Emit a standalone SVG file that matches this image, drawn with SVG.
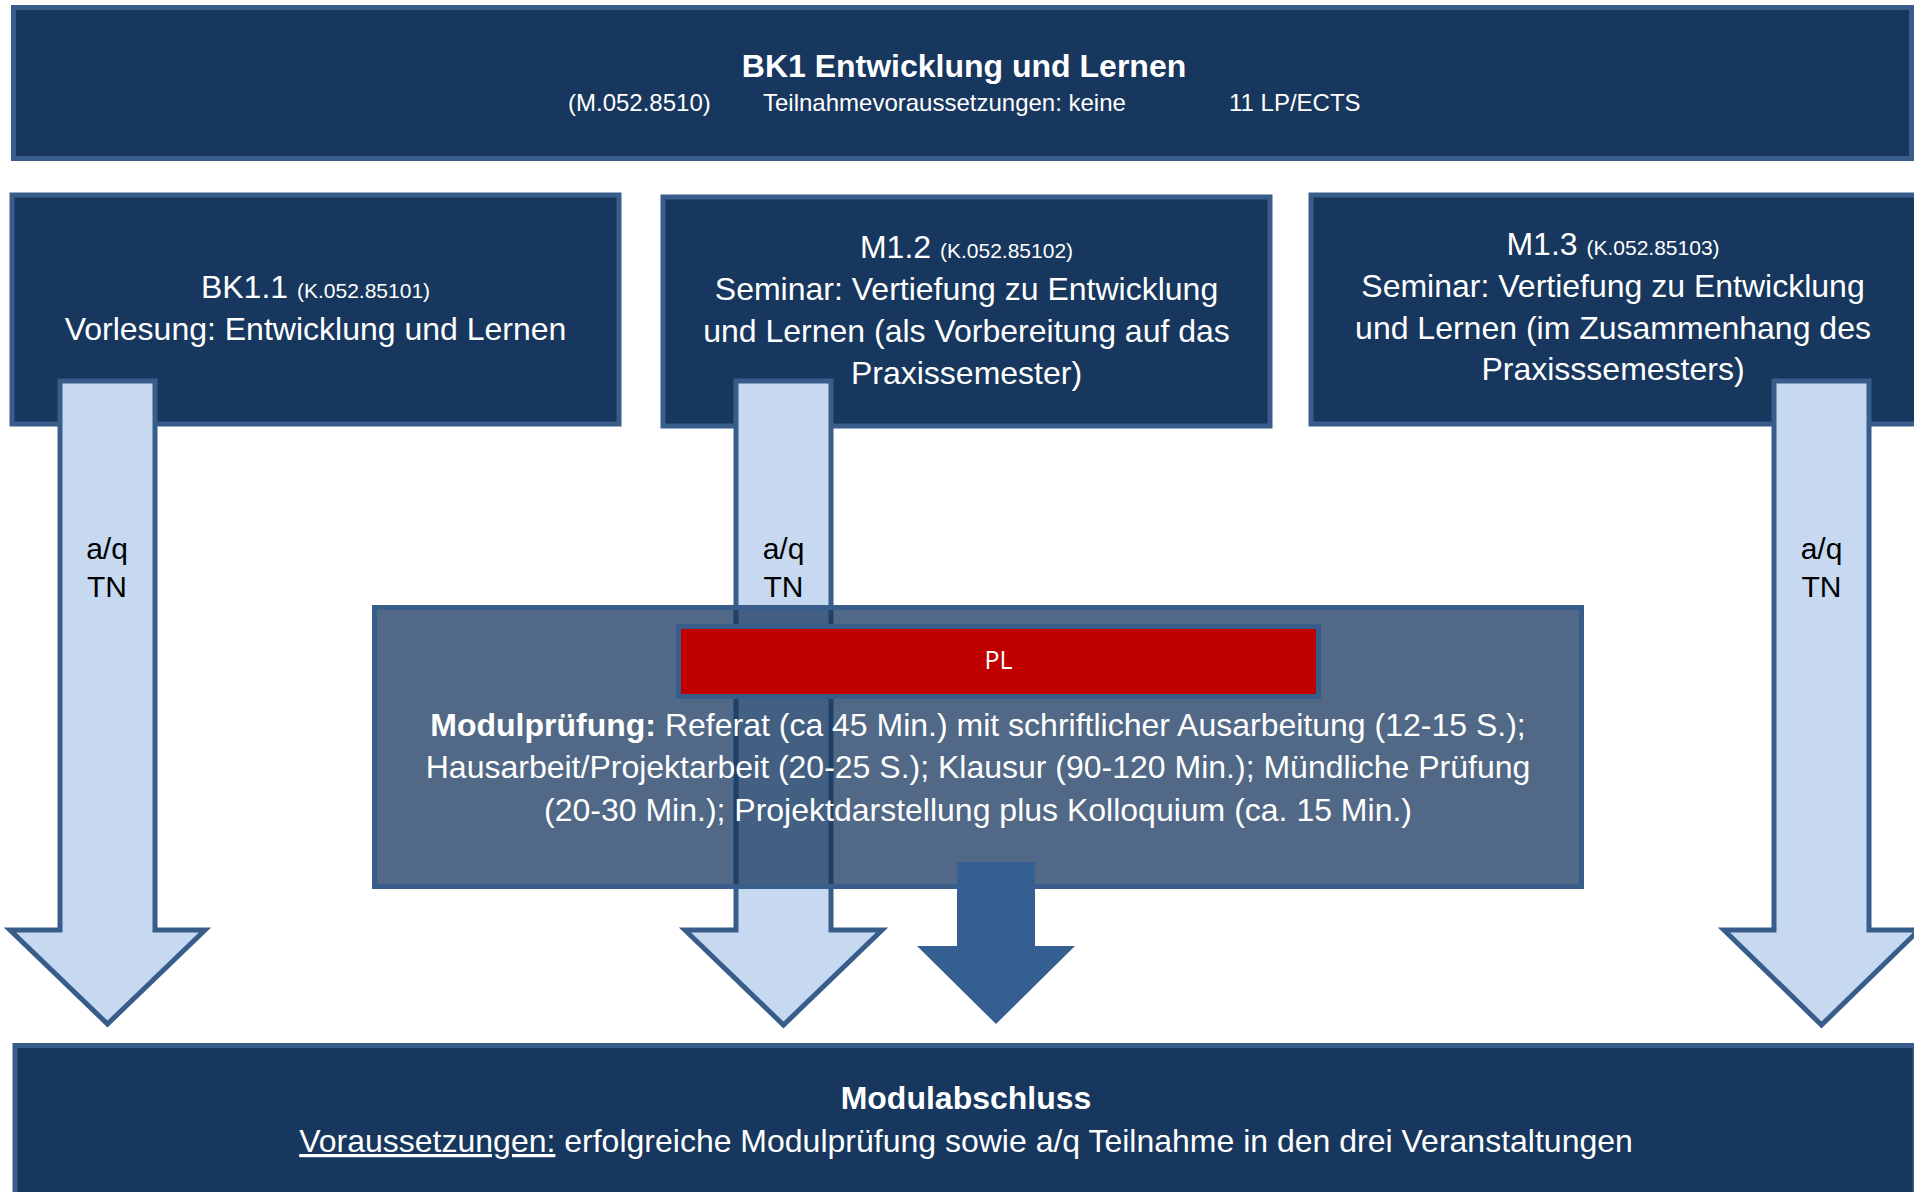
<svg xmlns="http://www.w3.org/2000/svg" width="1914" height="1192" viewBox="0 0 1914 1192">
<style>
.box{fill:#17375e;stroke:#385d8a;stroke-width:5}
.t{font-family:"Liberation Sans",Arial,sans-serif;fill:#ffffff;text-anchor:middle}
.t32{font-size:32px}
.t24{font-size:24px}
.small{font-size:21px}
.b{font-weight:bold}
.arr{fill:#c6d9f1;stroke:#385d8a;stroke-width:5;stroke-linejoin:miter;stroke-miterlimit:10}
.lbl{font-family:"Liberation Sans",Arial,sans-serif;font-size:30px;fill:#000000;text-anchor:middle}
</style>
<rect width="1914" height="1192" fill="#ffffff"/>
<g id="top">
<rect class="box" x="13.5" y="7.5" width="1898" height="151"/>
<text class="t t32 b" x="964" y="77">BK1 Entwicklung und Lernen</text>
<text class="t24" font-family="Liberation Sans, Arial, sans-serif" fill="#ffffff" font-size="24" y="110.5"><tspan x="568">(M.052.8510)</tspan><tspan x="763">Teilnahmevoraussetzungen: keine</tspan><tspan x="1229">11 LP/ECTS</tspan></text>
</g>
<g id="bk11">
<rect class="box" x="12" y="195" width="607" height="229"/>
<text class="t t32" x="315.5" y="298">BK1.1 <tspan class="small">(K.052.85101)</tspan></text>
<text class="t t32" x="315.5" y="339.5">Vorlesung: Entwicklung und Lernen</text>
</g>
<g id="m12">
<rect class="box" x="663" y="197" width="607" height="229"/>
<text class="t t32" x="966.5" y="258">M1.2 <tspan class="small">(K.052.85102)</tspan></text>
<text class="t t32" x="966.5" y="300">Seminar: Vertiefung zu Entwicklung</text>
<text class="t t32" x="966.5" y="342">und Lernen (als Vorbereitung auf das</text>
<text class="t t32" x="966.5" y="384">Praxissemester)</text>
</g>
<g id="m13">
<rect class="box" x="1311" y="195" width="607" height="229"/>
<text class="t t32" x="1613" y="255">M1.3 <tspan class="small">(K.052.85103)</tspan></text>
<text class="t t32" x="1613" y="297">Seminar: Vertiefung zu Entwicklung</text>
<text class="t t32" x="1613" y="339">und Lernen (im Zusammenhang des</text>
<text class="t t32" x="1613" y="380">Praxisssemesters)</text>
</g>
<g id="bottom">
<rect class="box" x="15" y="1045.5" width="1900" height="160"/>
<text class="t t32 b" x="966" y="1109">Modulabschluss</text>
<text class="t t32" x="966" y="1152"><tspan text-decoration="underline">Voraussetzungen:</tspan> erfolgreiche Modulprüfung sowie a/q Teilnahme in den drei Veranstaltungen</text>
</g>
<g id="connectors">
<polygon class="arr" points="60,381 155,381 155,930 205,930 107.5,1024 10,930 60,930"/>
<polygon class="arr" points="736,381 831,381 831,930 882,930 783.5,1025 685,930 736,930"/>
<polygon class="arr" points="1774,381 1869,381 1869,930 1919,930 1821.5,1025 1724,930 1774,930"/>
<text class="lbl" x="107" y="559">a/q</text>
<text class="lbl" x="107" y="597">TN</text>
<text class="lbl" x="783.5" y="559">a/q</text>
<text class="lbl" x="783.5" y="597">TN</text>
<text class="lbl" x="1821.5" y="559">a/q</text>
<text class="lbl" x="1821.5" y="597">TN</text>
</g>
<g id="exam">
<rect x="374.5" y="607.5" width="1207" height="279" fill="#17375e" fill-opacity="0.75" stroke="#385d8a" stroke-width="5"/>
<text class="t t32" x="978" y="736"><tspan class="b">Modulprüfung:</tspan> Referat (ca 45 Min.) mit schriftlicher Ausarbeitung (12-15 S.);</text>
<text class="t t32" x="978" y="778">Hausarbeit/Projektarbeit (20-25 S.); Klausur (90-120 Min.); Mündliche Prüfung</text>
<text class="t t32" x="978" y="820.5">(20-30 Min.); Projektdarstellung plus Kolloquium (ca. 15 Min.)</text>
</g>
<g id="pl">
<rect x="678.5" y="626.5" width="640" height="70" fill="#c00000" stroke="#385d8a" stroke-width="5"/>
<text x="998.5" y="668.5" font-family="Open Sans, Noto Sans, sans-serif" font-size="25" fill="#ffffff" text-anchor="middle">PL</text>
</g>
<g id="connector-exam">
<polygon points="957,862 1035,862 1035,946 1075,946 996,1024 917,946 957,946" fill="#365f91"/>
</g>
</svg>
